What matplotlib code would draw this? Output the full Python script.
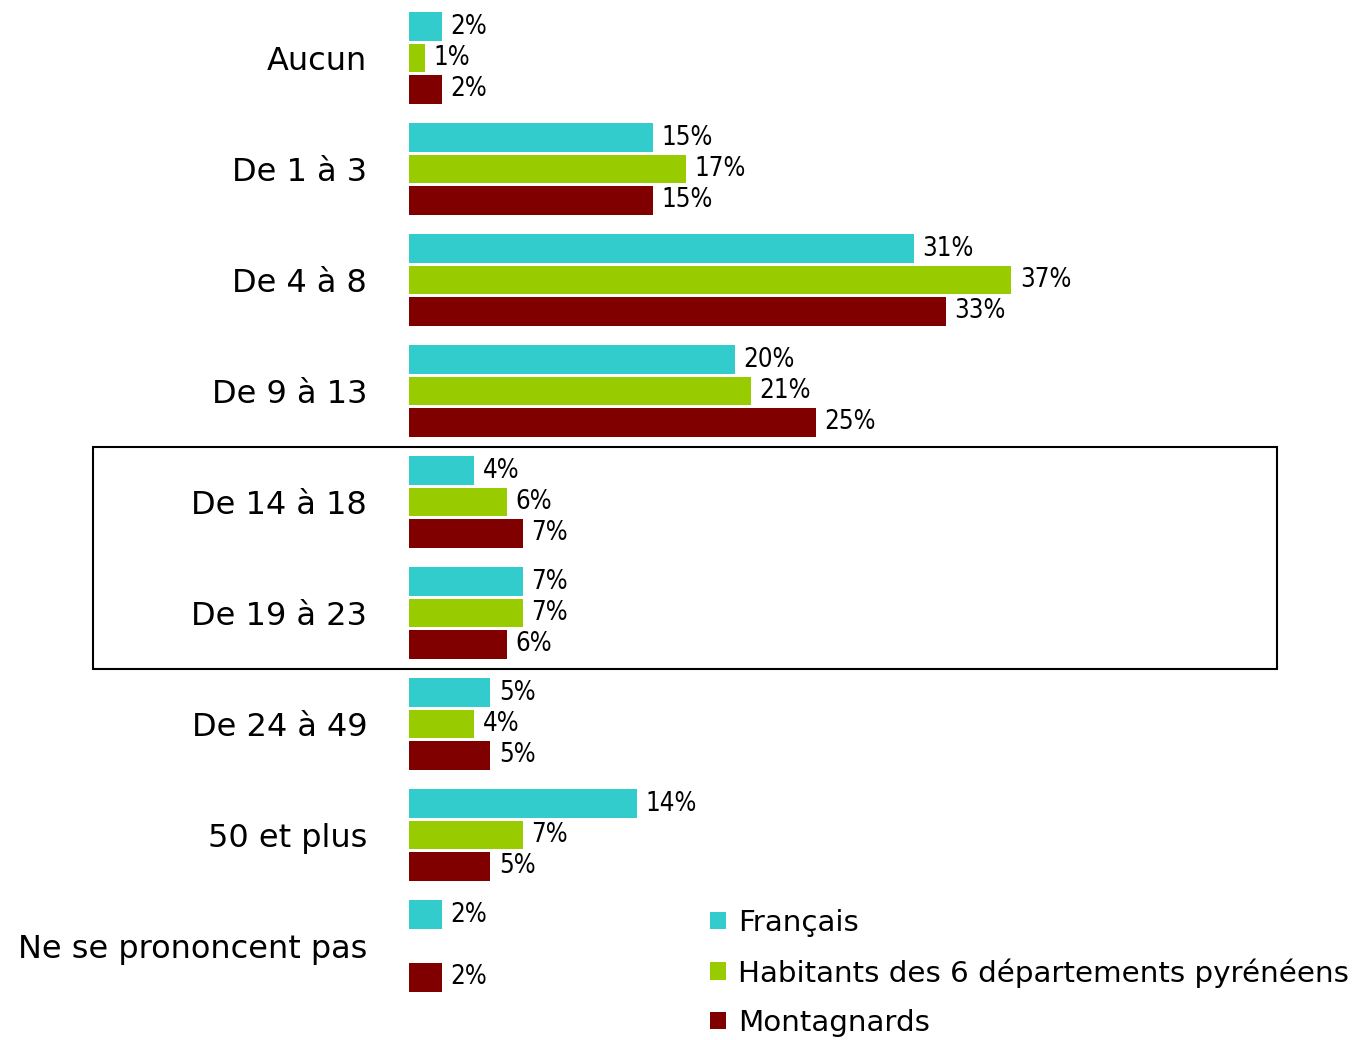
import numpy as np
import matplotlib
matplotlib.use("Agg")
import matplotlib.pyplot as plt
from matplotlib.patches import Patch, Rectangle
from matplotlib.transforms import blended_transform_factory

categories = ["Aucun", "De 1 à 3", "De 4 à 8", "De 9 à 13", "De 14 à 18",
              "De 19 à 23", "De 24 à 49", "50 et plus", "Ne se prononcent pas"]
francais = [2, 15, 31, 20, 4, 7, 5, 14, 2]
habitants = [1, 17, 37, 21, 6, 7, 4, 7, np.nan]
montagnards = [2, 15, 33, 25, 7, 6, 5, 5, 2]
series_names = ["Français", "Habitants des 6 départements pyrénéens", "Montagnards"]
colors = ["#33CCCC", "#99CC00", "#800000"]

plt.rcParams['font.family'] = ['DejaVu Sans']

W, H = 1357, 1040
fig = plt.figure(figsize=(W / 100, H / 100), dpi=100)
ax = fig.add_axes([409 / W, (H - 1001.5) / H, (W - 409) / W, 999 / H])

y = np.arange(len(categories))
pitch = 0.28
height = 0.26
for i, (vals, col) in enumerate(zip([francais, habitants, montagnards], colors)):
    pos = y + (i - 1) * pitch
    v = np.array(vals, dtype=float)
    mask = ~np.isnan(v)
    ax.barh(pos[mask], v[mask], height=height, color=col, edgecolor='none')
    for p, val in zip(pos[mask], v[mask]):
        ax.annotate(f"{int(val)}%", xy=(val, p), xytext=(6, 0), textcoords='offset points',
                    va='center', ha='left', fontsize=18.5, fontstretch='condensed',
                    color='black')

ax.set_xlim(0, (W - 409) / 16.28)
ax.set_ylim(len(categories) - 0.5, -0.5)
ax.set_yticks(y)
ax.set_yticklabels(categories, fontsize=23)
ax.tick_params(axis='y', length=0, pad=30)
ax.set_xticks([])
for s in ax.spines.values():
    s.set_visible(False)

trans = blended_transform_factory(fig.transFigure, ax.transData)
rect = Rectangle((93 / W, 3.5), (1277 - 93) / W, 2.0, transform=trans, fill=False,
                 edgecolor='black', linewidth=1.5, clip_on=False)
fig.add_artist(rect)

handles = [Patch(facecolor=c, edgecolor='none') for c in colors]
fig.legend(handles, series_names, loc='upper left', bbox_to_anchor=(710 / W, (H - 909) / H),
           frameon=False, fontsize=21.2, handlelength=0.55, handleheight=0.55,
           handletextpad=0.4, labelspacing=0.72, borderpad=0, borderaxespad=0)

fig.savefig("out.png", dpi=100)
